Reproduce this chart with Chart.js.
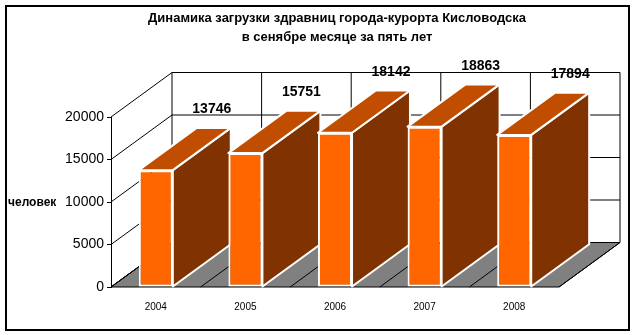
<!DOCTYPE html>
<html>
<head>
<meta charset="utf-8">
<script src="https://cdn.jsdelivr.net/npm/chart.js@4"></script>
<style>body { margin: 0; background: #fff; }</style>
</head>
<body>
<canvas id="grafico" width="636" height="335"></canvas>
<script>
// dados
const anos = ['2004', '2005', '2006', '2007', '2008'];
const pessoas = [13746, 15751, 18142, 18863, 17894];
const ticksY = [0, 5000, 10000, 15000, 20000];
const titulo = ['Динамика загрузки здравниц города-курорта Кисловодска', 'в сенябре месяце за пять лет'];
const rotuloY = 'человек';

const FONTE = 'Arial, "Liberation Sans", sans-serif';
const PROF = { dx: 61, dy: -44.5 };   // profundidade do chão / paredes
const PROF_BARRA = 0.95;

function poligono(ctx, pts) {
    ctx.beginPath();
    ctx.moveTo(pts[0][0], pts[0][1]);
    for (let i = 1; i < pts.length; i++) ctx.lineTo(pts[i][0], pts[i][1]);
    ctx.closePath();
}

function linha(ctx, x1, y1, x2, y2) {
    ctx.beginPath();
    ctx.moveTo(x1, y1);
    ctx.lineTo(x2, y2);
    ctx.stroke();
}

const caixa3d = {
    id: 'caixa3d',
    beforeDatasetsDraw(chart) {
        const { ctx, chartArea, scales: { x, y } } = chart;
        const { dx, dy } = PROF;
        const esq = chartArea.left, dir = chartArea.right;
        const y0 = y.getPixelForValue(0), yTopo = y.getPixelForValue(y.max);
        const passo = (dir - esq) / anos.length;

        ctx.save();
        // chão
        ctx.fillStyle = '#808080';
        poligono(ctx, [[esq, y0], [dir, y0], [dir + dx, y0 + dy], [esq + dx, y0 + dy]]);
        ctx.fill();
        ctx.strokeStyle = '#000';
        ctx.lineWidth = 1;
        ctx.stroke();

        // divisões do chão e verticais da parede do fundo
        for (let k = 0; k <= anos.length; k++) {
            const xb = esq + k * passo;
            linha(ctx, xb, y0, xb + dx, y0 + dy);
            linha(ctx, xb + dx, y0 + dy, xb + dx, yTopo + dy);
        }

        // linhas de grade (parede lateral + fundo)
        ticksY.forEach(v => {
            const py = y.getPixelForValue(v);
            ctx.beginPath();
            ctx.moveTo(esq, py);
            ctx.lineTo(esq + dx, py + dy);
            ctx.lineTo(dir + dx, py + dy);
            ctx.stroke();
        });

        // lados e topos das barras
        const bdx = dx * PROF_BARRA, bdy = dy * PROF_BARRA;
        ctx.strokeStyle = '#fff';
        ctx.lineWidth = 2;
        ctx.lineJoin = 'round';
        chart.getDatasetMeta(0).data.forEach(barra => {
            const { x: bx, y: by, base, width } = barra.getProps(['x', 'y', 'base', 'width'], true);
            const xl = bx - width / 2, xr = bx + width / 2;
            ctx.fillStyle = '#803300';
            poligono(ctx, [[xr, by], [xr + bdx, by + bdy], [xr + bdx, base + bdy], [xr, base]]);
            ctx.fill();
            ctx.stroke();
            ctx.fillStyle = '#C04D00';
            poligono(ctx, [[xl, by], [xr, by], [xr + bdx, by + bdy], [xl + bdx, by + bdy]]);
            ctx.fill();
            ctx.stroke();
        });
        ctx.restore();
    },
    afterDatasetsDraw(chart) {
        const { ctx } = chart;
        ctx.save();
        ctx.fillStyle = '#000';
        ctx.font = `bold 14px ${FONTE}`;
        ctx.textAlign = 'center';
        ctx.textBaseline = 'middle';
        chart.getDatasetMeta(0).data.forEach((barra, i) => {
            const { x: bx, y: by } = barra.getProps(['x', 'y'], true);
            ctx.fillText(String(pessoas[i]), bx + 56, by - 61);
        });
        ctx.restore();
    },
    afterDraw(chart) {
        const { ctx, scales: { y } } = chart;
        ctx.save();
        ctx.fillStyle = '#000';
        ctx.textBaseline = 'middle';
        ctx.font = `bold 13px ${FONTE}`;
        ctx.textAlign = 'center';
        ctx.fillText(titulo[0], 337, 18);
        ctx.fillText(titulo[1], 337, 37);

        ctx.font = `bold 12px ${FONTE}`;
        ctx.textAlign = 'left';
        ctx.fillText(rotuloY, 8, y.getPixelForValue(10000) + 1);

        ctx.strokeStyle = '#000';
        ctx.lineWidth = 2;
        ctx.strokeRect(6, 6, 623, 324);
        ctx.restore();
    }
};

const ctx = document.getElementById('grafico').getContext('2d');
new Chart(ctx, {
    type: 'bar',
    data: {
        labels: anos,
        datasets: [{
            data: pessoas,
            backgroundColor: '#FF6600',
            borderColor: '#fff',
            borderWidth: 2,
            borderSkipped: false,
            categoryPercentage: 1,
            barPercentage: 0.38
        }]
    },
    options: {
        responsive: false,
        animation: false,
        layout: { padding: { left: 51, right: 77, top: 117, bottom: 0 } },
        plugins: {
            legend: { display: false },
            tooltip: { enabled: false }
        },
        scales: {
            x: {
                grid: { display: false, drawTicks: false },
                border: { display: false },
                ticks: { color: '#000', font: { family: FONTE, size: 10 }, padding: 14 },
                afterFit: scale => { scale.height = 48; }
            },
            y: {
                min: 0,
                max: 20000,
                afterBuildTicks: scale => { scale.ticks = ticksY.map(v => ({ value: v })); },
                grid: { drawOnChartArea: false, drawTicks: true, tickLength: 4, color: '#000' },
                border: { display: true, color: '#000' },
                ticks: { color: '#000', font: { family: FONTE, size: 14 }, padding: 3, callback: v => String(v) },
                afterFit: scale => { scale.width = 60; }
            }
        }
    },
    plugins: [caixa3d]
});
</script>
</body>
</html>
